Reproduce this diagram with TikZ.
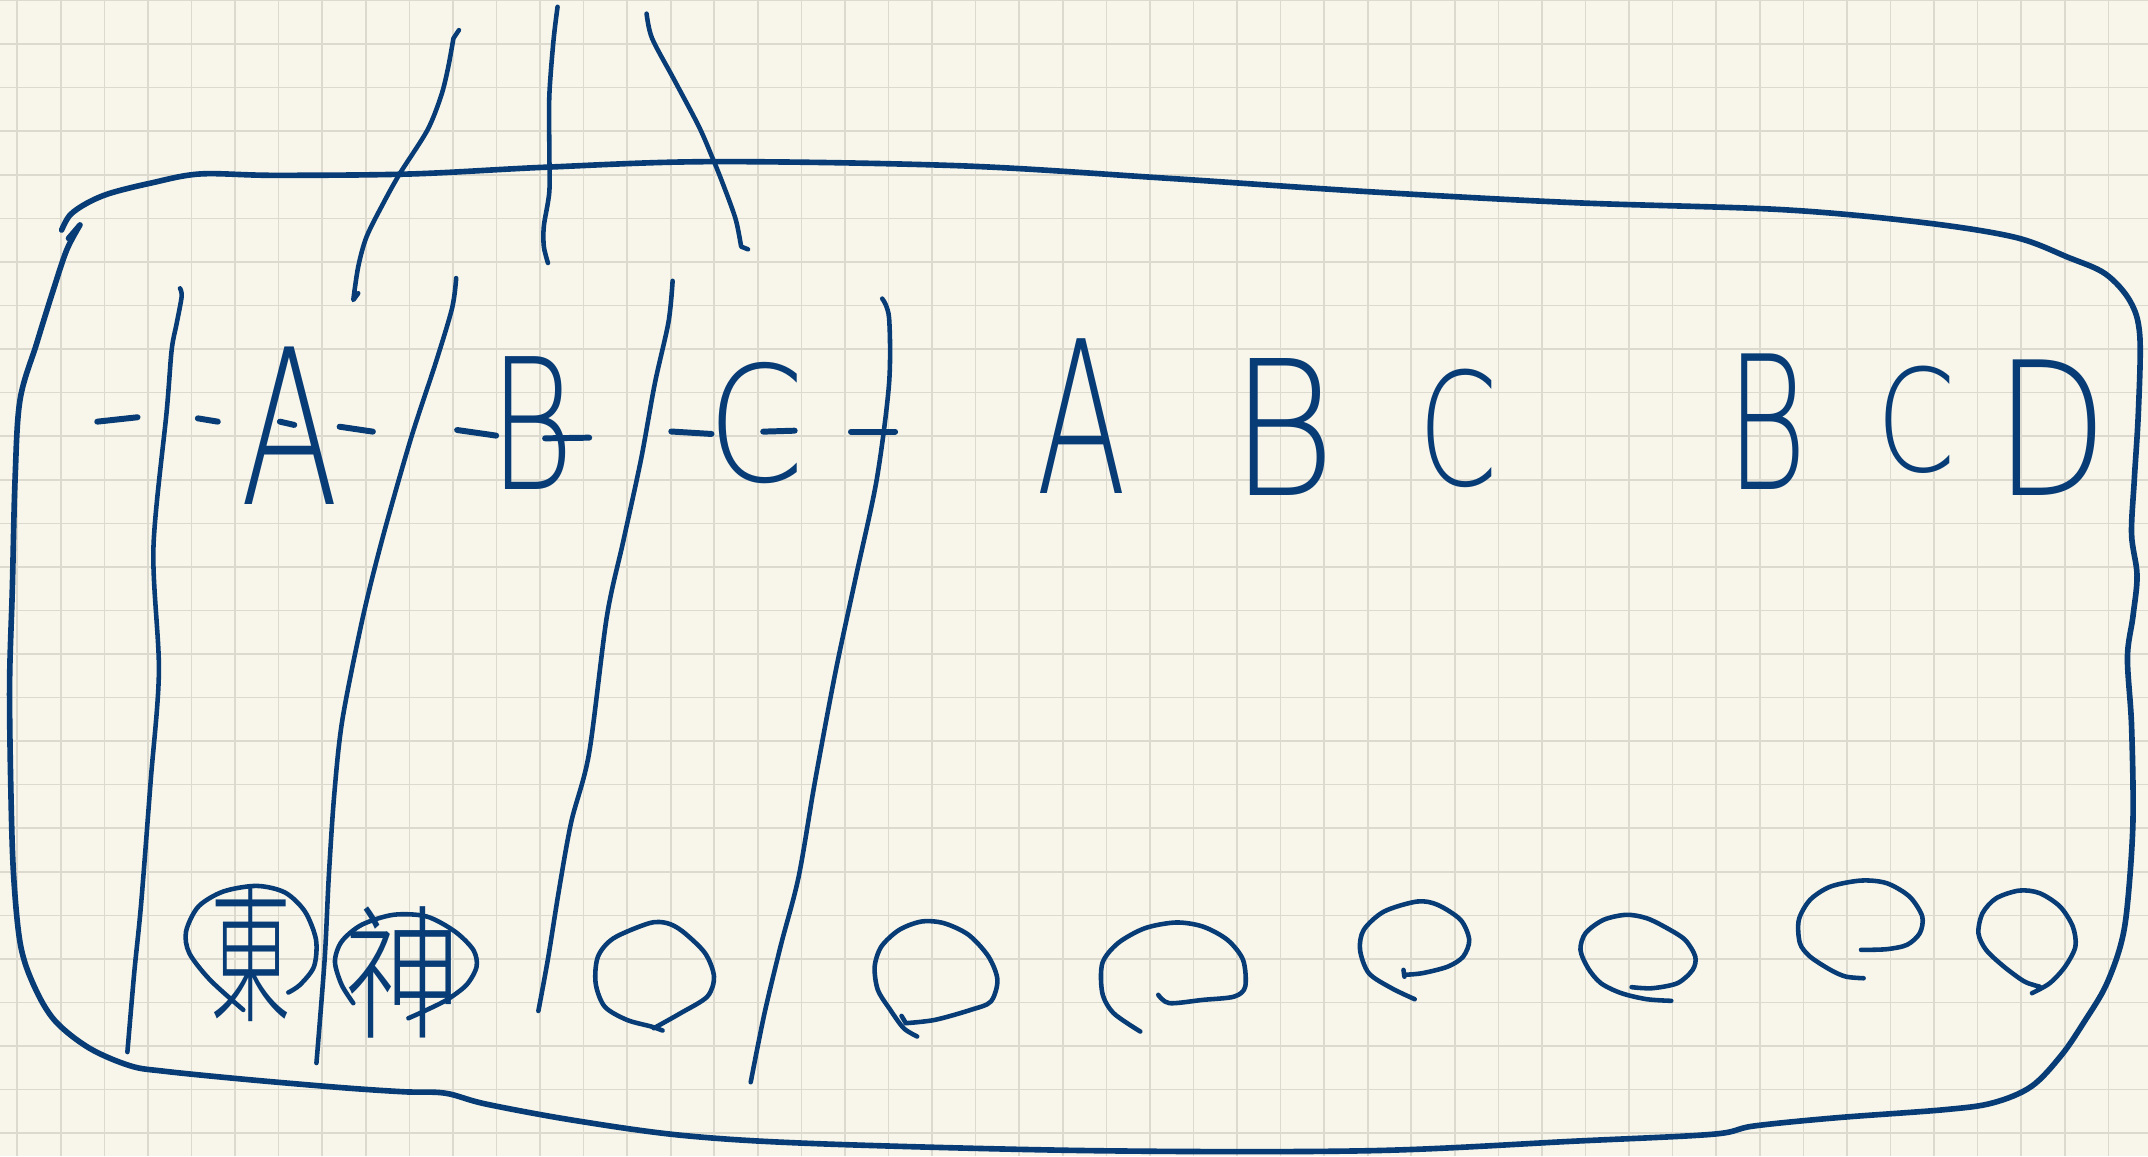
\documentclass[tikz,border=0pt]{standalone}
\usepackage{fontspec}
\usepackage{graphicx}
\newfontfamily\handfont{DejaVu Sans ExtraLight}
\newfontfamily\cjkfont{Noto Sans CJK TC Light}
\newlength\hux
\setlength\hux{0.0137cm}
\definecolor{ink}{RGB}{8,60,118}
\definecolor{paper}{RGB}{248,246,234}
\definecolor{gridc}{RGB}{220,218,206}
\tikzset{
  pen/.style={draw=ink, line width=1.3pt, line cap=round, line join=round},
  bold pen/.style={draw=ink, line width=1.6pt, line cap=round, line join=round},
  dashmark/.style={draw=ink, line width=1.7pt, line cap=round},
  letter/.style={inner sep=0pt, outer sep=0pt, text=ink},
}
\begin{document}
\begin{tikzpicture}[x=0.0137cm, y=-0.0137cm]
\fill[paper] (0,0) rectangle (1568,844);
\useasboundingbox (0,0) rectangle (1568,844);
% grid
\foreach \i in {0,...,49} \draw[gridc, line width=0.45pt] ({12.6+\i*31.8},0) -- ({12.6+\i*31.8},844);
\foreach \j in {0,...,26} \draw[gridc, line width=0.45pt] (0,{0.4+\j*31.8}) -- (1568,{0.4+\j*31.8});

% outer border
\draw[bold pen] plot[smooth, tension=0.55] coordinates {
 (45,167.9) (51.1,157) (63.3,148.4) (80.3,141.1) (109.5,133.8) (146,127) (200,128) (300,127)
 (400,122) (520,118) (700,121) (850,130) (1000,140) (1150,148) (1300,153) (1400,162) (1470,173)
 (1510,188) (1537,200) (1555,220) (1562,245) (1561,300) (1558,350) (1556,390) (1560,420)
 (1557,450) (1553,480) (1556,530) (1557,600) (1553,660) (1548,690) (1537,720) (1522,745)
 (1505,770) (1483,793) (1455,805) (1420,810) (1340,816) (1280,822) (1250,828) (1150,833)
 (1000,840) (800,840) (600,835) (500,829) (420,818) (355,806) (325,798) (295,797) (250,794)
 (180,788) (120,782) (95,778) (65,765) (40,745) (25,720) (15,690) (10,640) (8,580) (7,500)
 (9,430) (11,350) (14.6,292) (26.8,250.6) (38.9,211.7) (48.7,182.5) (58.4,164.2)} -- (50,174);

% top strokes above the box
\draw[pen] (335,22) -- (331,28) plot[smooth] coordinates {(331,28) (327,50) (322,70) (312,95) (292,126.5) (279.8,148.4) (267.6,172.8) (261.5,194.7) (257.9,219)} -- (261.5,214.1);
\draw[pen] plot[smooth] coordinates {(407,5) (404,30) (401,70) (401,110) (401,140) (397,165) (397,180) (400,192)};
\draw[pen] plot[smooth] coordinates {(472,10) (476,28) (492,58) (510,92) (520,115) (528,135) (537,160) (541,180)} -- (546,182);

% column lines
\draw[pen] plot[smooth] coordinates {(131.4,210.5) (132.6,216.5) (129,236) (125.3,255.5) (121.7,300) (112,400) (116,490) (110,570) (103,660) (98,710) (93,768)};
\draw[pen] plot[smooth] coordinates {(333,203) (330,225) (318,265) (300,320) (280,390) (265,450) (250,525) (244,580) (240,640) (237,700) (231,776)};
\draw[pen] plot[smooth] coordinates {(491,205) (488,235) (478,280) (468,335) (455,395) (443,450) (430,550) (417,600) (408,650) (400,700) (393,738)};
\draw[pen] plot[smooth] coordinates {(644,218) (649,232) (649,280) (640,350) (625,420) (610,490) (595,570) (583,640) (570,690) (558,740) (548,790)};

% dashes in the left row
\draw[dashmark] (71,307.8) -- (100.4,304.6);
\draw[dashmark] (144.4,305.4) -- (159,307.8);
\draw[dashmark] (204.3,307.8) -- (214.8,310.2);
\draw[dashmark] (247.9,311.5) -- (272.2,315.1);
\draw[dashmark] (333.7,313.9) -- (362.2,318);
\draw[dashmark] (397.9,320) -- (430.1,319.5);
\draw[dashmark] (490,315) -- (519.4,316.8);
\draw[dashmark] (557.1,315.1) -- (580.1,314.4);
\draw[dashmark] (621.2,315.1) -- (653.4,315.1);

% letters, left group
\node[letter] (la) at (211.5,310.5) {\resizebox{72\hux}{115\hux}{\handfont A}};
\node[letter] (lb) at (388,308.5) {\resizebox{62\hux}{97\hux}{\handfont B}};
\node[letter] (lc) at (552,308.5) {\resizebox{71\hux}{87\hux}{\handfont C}};

% letters, right groups
\node[letter] (ra) at (789.5,303.5) {\resizebox{66\hux}{113\hux}{\handfont A}};
\node[letter] (rb) at (937,311.5) {\resizebox{77\hux}{100\hux}{\handfont B}};
\node[letter] (rc) at (1064.5,312.5) {\resizebox{58\hux}{85\hux}{\handfont C}};
\node[letter] (sb) at (1290,307.5) {\resizebox{59\hux}{99\hux}{\handfont B}};
\node[letter] (sc) at (1398.5,306.5) {\resizebox{58\hux}{77\hux}{\handfont C}};
\node[letter] (sd) at (1498,312.5) {\resizebox{82\hux}{99\hux}{\handfont D}};

% circled characters
\draw[pen] plot[smooth] coordinates {(177.6,737.2) (153.3,715.3) (138.2,695.8) (135.8,680) (144.8,661.8) (163,650.8) (187.4,646.7) (208,651.5) (222.6,665.4) (230.7,686.1) (229.2,705.6) (219,718.9) (210.5,724.5)};
\node[letter] (dong) at (183.5,696) {\resizebox*{59\hux}{100\hux}{\cjkfont 東}};
\draw[pen] plot[smooth] coordinates {(257.9,732.3) (249.4,718.9) (244.5,701.9) (249.4,687.3) (264,675.1) (287.1,667.8) (311.4,669) (332.1,680) (345.5,693.4) (347.9,705.6) (340.6,718.9) (326.1,729.9) (309,738.4) (298.1,743.3)};
\node[letter] (shen) at (293.8,710) {\resizebox*{85\hux}{96\hux}{\cjkfont 神}};

% empty loops
\draw[pen] plot[smooth] coordinates {(483.7,752.3) (475.6,749.4) (457.6,744.5) (441.4,734.8) (434.8,717.7) (436.5,698.3) (447.9,684.9) (474,673.9) (487,673.9) (498.4,680) (514.7,695.8) (521.2,712.9) (516.3,727.5) (496.8,739.6) (477.2,750.6)};
\draw[pen] (658.1,741.6) -- (661.3,746.9) plot[smooth] coordinates {(661.3,746.9) (682.5,744.5) (708.6,737.2) (723.3,731.1) (728.1,715.3) (721.6,698.3) (707,682.4) (689,673.9) (672.7,672.7) (656.4,678.8) (643.4,690.9) (638.5,705.6) (640.8,722.6) (649.9,737.2) (659.7,750.6) (669.5,756.6)};
\draw[pen] plot[smooth] coordinates {(832.4,753) (812.9,739.6) (804.7,725) (804.7,703.1) (816.1,688.5) (835.7,677.6) (858.5,673.4) (878.1,676.4) (896,686.1) (907.4,700.7) (909,720.2) (900.9,727.5) (878.1,729.9) (853.6,732.3) (845.5,726.2)};
\draw[pen] plot[smooth] coordinates {(1025.2,711.6) (1038.3,710.4) (1056.9,705.6) (1068.1,698.3) (1072.5,686.1) (1066.2,671.5) (1049.4,660.5) (1034.5,658.1) (1010.3,665.4) (995.5,678.8) (992.8,693.4) (999.2,710.4) (1015.9,721.4) (1032.7,729.4)};
\draw[pen] (1024.5,708) -- (1025.2,713);
\draw[pen] plot[smooth] coordinates {(1191,720.6) (1205.9,721.4) (1224.5,717.7) (1235.6,708) (1237.5,698.3) (1230.1,686.1) (1217,677.6) (1202.1,670.3) (1187.2,667.8) (1170.5,671.5) (1157.4,681.2) (1153.7,693.4) (1159.3,706.8) (1168.6,717.7) (1183.5,725) (1202.1,729.4) (1220,730.6)};
\draw[pen] plot[smooth] coordinates {(1358.5,693.4) (1377.2,692.9) (1392.1,689.7) (1401.4,681.2) (1403.2,669) (1393.9,654.5) (1377.2,644.7) (1358.5,642.8) (1336.2,647.2) (1321.3,656.9) (1313.1,671.5) (1313.9,688.5) (1321.3,698.3) (1336.2,708) (1347.4,712.9) (1360.4,714.1)};
\draw[pen] plot[smooth] coordinates {(1483.3,725) (1496.3,717.7) (1507.5,705.6) (1515,691) (1513.1,676.4) (1503.8,661.8) (1488.9,652) (1474,650.1) (1457.2,655.7) (1447.2,666.6) (1444.2,681.2) (1449.8,693.4) (1462.8,705.6) (1477.8,716.5) (1488.9,720.2)};
\end{tikzpicture}
\end{document}
